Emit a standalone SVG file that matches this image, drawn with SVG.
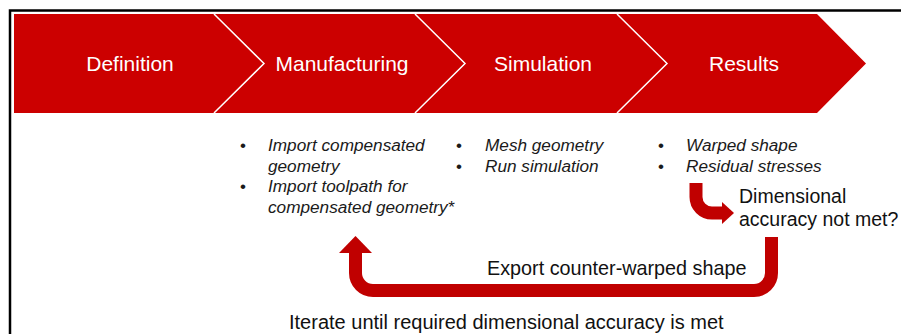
<svg xmlns="http://www.w3.org/2000/svg" width="901" height="334" viewBox="0 0 901 334">
  <style>
    .seg { fill: #CC0000; }
    .sep { fill: none; stroke: #FFFFFF; stroke-width: 1.5; stroke-linejoin: miter; }
    .stage { font-family: "Liberation Sans", Arial, sans-serif; font-size: 21px; fill: #FFFFFF; text-anchor: middle; }
    .item { font-family: "Liberation Sans", Arial, sans-serif; font-size: 17.2px; font-style: italic; fill: #1A1A1A; }
    .dot { font-family: "Liberation Sans", Arial, sans-serif; font-size: 17px; fill: #1A1A1A; text-anchor: middle; }
    .note { font-family: "Liberation Sans", Arial, sans-serif; fill: #111111; }
    .flow { fill: none; stroke: #C00000; stroke-width: 13; }
    .head { fill: #C00000; }
  </style>

  <rect width="901" height="334" fill="#FFFFFF"/>
  <!-- frame -->
  <path d="M10 334 V10.5 H901" fill="none" stroke="#000000" stroke-width="2.5"/>

  <!-- process banner -->
  <g id="definition">
    <polygon class="seg" points="14,14 214,14 264,63.5 214,113 14,113"/>
    <text class="stage" x="130" y="71">Definition</text>
  </g>
  <g id="manufacturing">
    <polygon class="seg" points="214,14 415,14 465,63.5 415,113 214,113 264,63.5"/>
    <polyline class="sep" points="214,14 264,63.5 214,113"/>
    <text class="stage" x="342" y="71">Manufacturing</text>
  </g>
  <g id="simulation">
    <polygon class="seg" points="415,14 617,14 667,63.5 617,113 415,113 465,63.5"/>
    <polyline class="sep" points="415,14 465,63.5 415,113"/>
    <text class="stage" x="543" y="71">Simulation</text>
  </g>
  <g id="results">
    <polygon class="seg" points="617,14 817,14 866,63.5 817,113 617,113 667,63.5"/>
    <polyline class="sep" points="617,14 667,63.5 617,113"/>
    <text class="stage" x="744" y="71">Results</text>
  </g>

  <!-- task lists -->
  <g id="manufacturing-tasks">
    <text class="dot" x="243" y="151">•</text>
    <text class="item" x="268" y="151">Import compensated</text>
    <text class="item" x="268" y="171.5">geometry</text>
    <text class="dot" x="243" y="192">•</text>
    <text class="item" x="268" y="192">Import toolpath for</text>
    <text class="item" x="268" y="212.5">compensated geometry*</text>
  </g>
  <g id="simulation-tasks">
    <text class="dot" x="459" y="151">•</text>
    <text class="item" x="485" y="151">Mesh geometry</text>
    <text class="dot" x="459" y="171.5">•</text>
    <text class="item" x="485" y="171.5">Run simulation</text>
  </g>
  <g id="results-tasks">
    <text class="dot" x="661" y="151">•</text>
    <text class="item" x="686" y="151">Warped shape</text>
    <text class="dot" x="661" y="171.5">•</text>
    <text class="item" x="686" y="171.5">Residual stresses</text>
  </g>

  <g id="check">
    <text class="note" x="739" y="203" font-size="19.5">Dimensional</text>
    <text class="note" x="739" y="226" font-size="19.5">accuracy not met?</text>
  </g>

  <!-- connectors -->
  <g id="connectors">
    <path class="flow" stroke-width="12" d="M696 183 V197 A16 16 0 0 0 712 213 H723"/>
    <polygon class="head" points="722,202 734,213 722,224"/>
    <path class="flow" d="M771.5 237 V273 A17.5 17.5 0 0 1 754 290.5 H373 A17.5 17.5 0 0 1 355.5 273 V252"/>
    <polygon class="head" points="339,253 355.5,236 372,253"/>
  </g>

  <text class="note" x="487" y="275" font-size="19.8">Export counter-warped shape</text>
  <text class="note" x="289" y="329" font-size="20">Iterate until required dimensional accuracy is met</text>
</svg>
